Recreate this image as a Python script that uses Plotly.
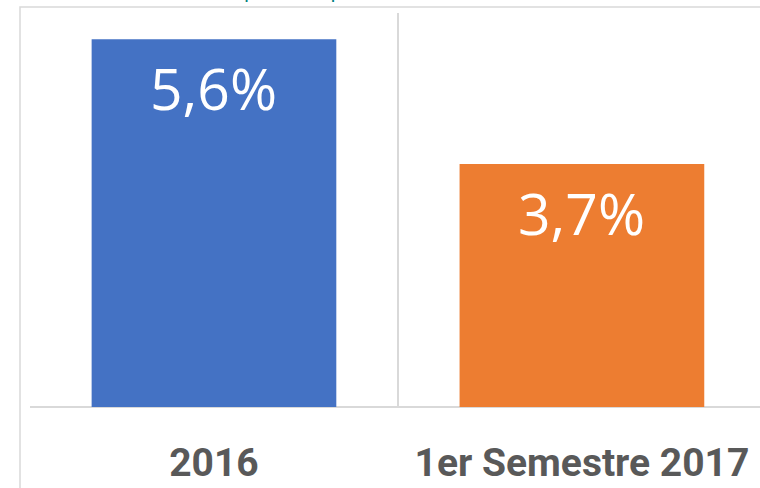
import plotly.graph_objects as go

categories = ["2016", "1er Semestre 2017"]
values = [5.6, 3.7]
value_labels = ["5,6%", "3,7%"]
bar_colors = ["#4472C4", "#ED7D31"]
title_text = "(Var. %, respecto al período)"

fig = go.Figure()
fig.add_trace(go.Bar(
    x=categories, y=values, marker=dict(color=bar_colors, line=dict(width=0)),
    width=0.665, hoverinfo="skip", showlegend=False,
))

for i, (v, t) in enumerate(zip(values, value_labels)):
    fig.add_annotation(x=i, y=v, text=t, showarrow=False, yanchor="top", yshift=-8,
                       font=dict(family="Open Sans", size=57, color="white"))

fig.add_annotation(xref="paper", yref="paper", x=0.333, y=1.02, xanchor="center", yanchor="bottom",
                   text=title_text, showarrow=False,
                   font=dict(family="Open Sans", size=22, color="#00807F"))

# outer chart border
fig.add_shape(type="rect", xref="paper", yref="paper", x0=-10/730, x1=1.2, y0=-0.5, y1=1 + 6/394,
              line=dict(color="#D9D9D9", width=1.5), fillcolor="rgba(0,0,0,0)", layer="below")

fig.update_layout(
    width=760, height=488,
    margin=dict(l=30, r=0, t=13, b=81),
    plot_bgcolor="white", paper_bgcolor="white",
    xaxis=dict(type="category", range=[-0.5, 1.484], tickson="boundaries", showgrid=True,
               gridcolor="#D9D9D9", gridwidth=1.5, ticks="", showline=False, zeroline=False,
               automargin=False,
               tickfont=dict(family="Roboto", size=39, color="#595959"),
               ticklabelstandoff=29),
    yaxis=dict(range=[0, 6], showgrid=False, showticklabels=False, zeroline=True,
               automargin=False,
               zerolinecolor="#D9D9D9", zerolinewidth=1.5, showline=False),
    bargap=0.335,
)
fig.update_xaxes(tickprefix="<b>", ticksuffix="</b>")
fig.write_html("out.html", config={"displayModeBar": False},
               post_script="document.body.style.margin='0';")
